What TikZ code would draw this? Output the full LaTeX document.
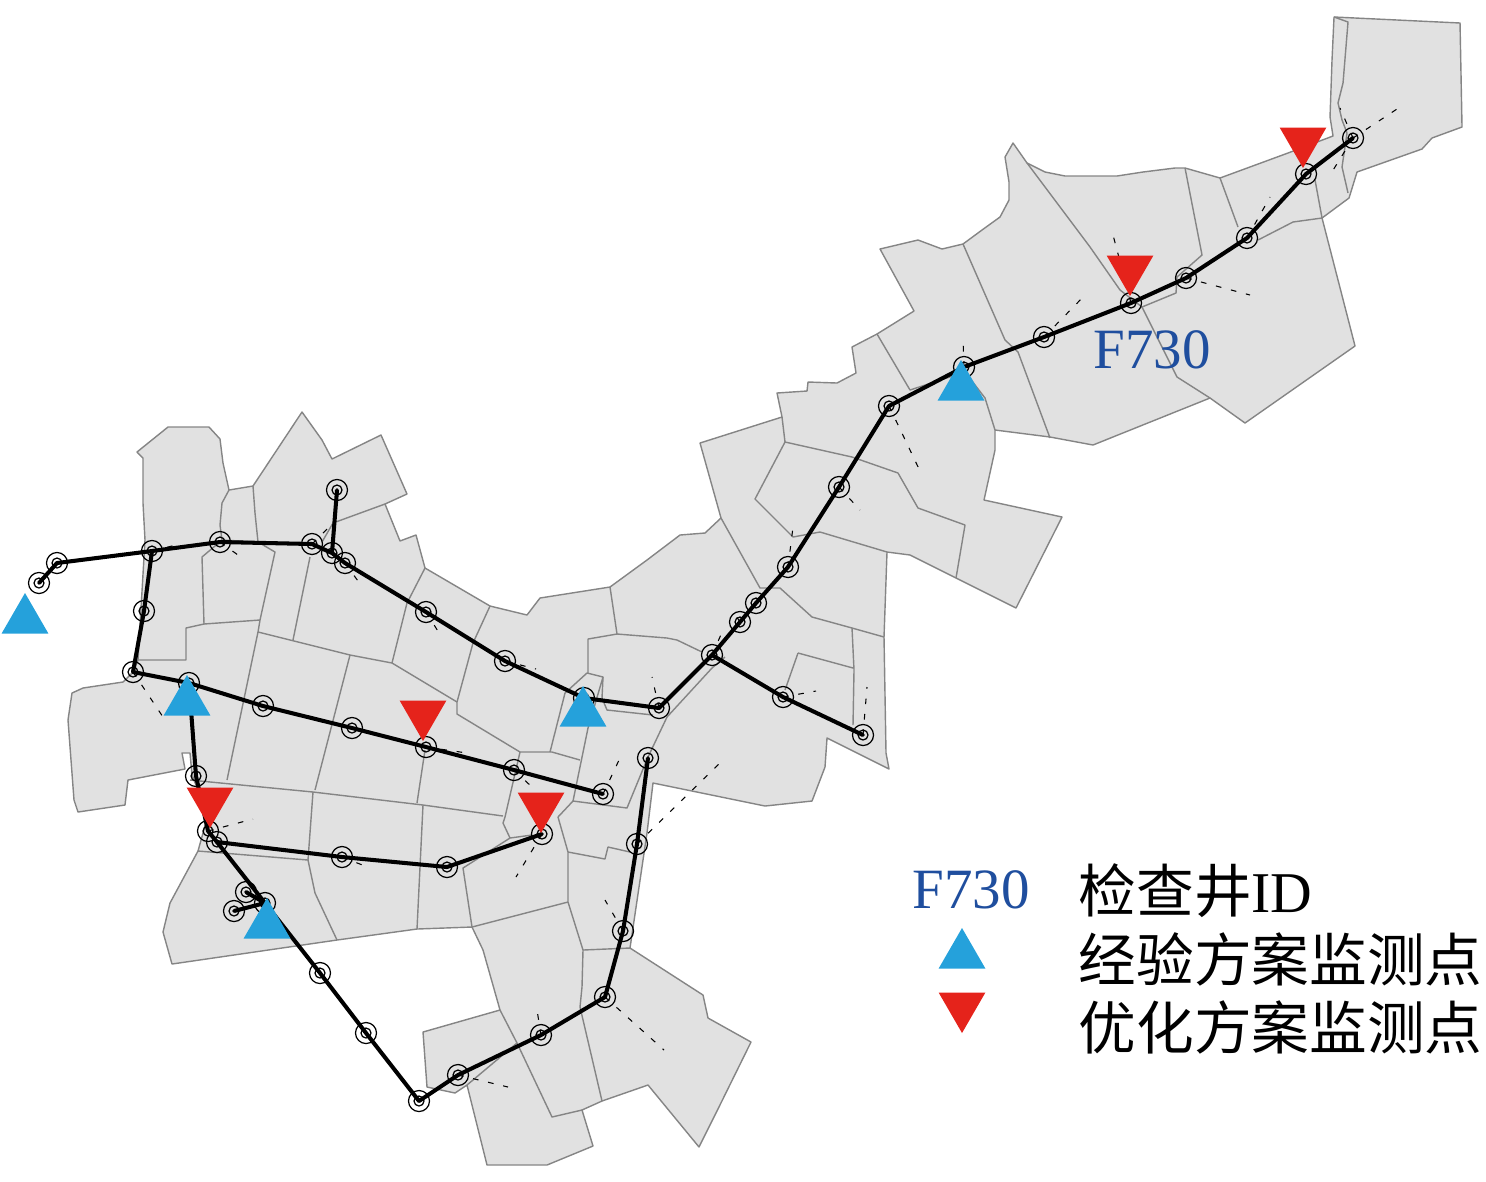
\documentclass[tikz,border=0pt]{standalone}
\usepackage{fontspec}
\setmainfont{Liberation Serif}
\newfontfamily\cjk{Noto Sans CJK SC}
\usetikzlibrary{shapes.geometric}
\definecolor{landgray}{HTML}{E1E1E1}
\definecolor{edgegray}{HTML}{858585}
\definecolor{planblue}{HTML}{25A1DB}
\definecolor{planred}{HTML}{E5231B}
\definecolor{idblue}{HTML}{1F4E9E}

\begin{document}
\begin{tikzpicture}[
    x=0.01cm,
    y=-0.01cm,
    land/.style={fill=landgray, draw=edgegray, line width=0.4pt, line join=round},
    cell/.style={draw=edgegray, line width=0.4pt, line join=round},
    pipe/.style={draw=black, line width=1.15pt, line join=round},
    service/.style={draw=black, line width=0.3pt, dash pattern=on 1.6pt off 2.8pt},
    hole/.style={
        circle,
        draw=black,
        line width=0.35pt,
        minimum size=0.21cm,
        inner sep=0pt,
        path picture={
            \draw[line width=0.35pt] (path picture bounding box.center) circle (0.05cm);
            \fill (path picture bounding box.center) circle (0.018cm);
        },
    },
    upmark/.style={
        regular polygon,
        regular polygon sides=3,
        minimum size=0.54cm,
        inner sep=0pt,
        outer sep=0pt,
        fill=planblue,
    },
    downmark/.style={
        regular polygon,
        regular polygon sides=3,
        shape border rotate=180,
        minimum size=0.54cm,
        inner sep=0pt,
        outer sep=0pt,
        fill=planred,
    },
    idtext/.style={anchor=base west, inner sep=0pt, text=idblue, font=\fontsize{16.2}{18}\selectfont},
    keytext/.style={anchor=base west, inner sep=0pt, text=black, font=\fontsize{16.4}{18}\selectfont},
]

\useasboundingbox (0,0) rectangle (1486,1181);

\path[land] (137,452) -- (168,427) -- (209,427) -- (220,439) -- (223,463) -- (229,490) -- (253,486) -- (302,412) -- (322,440) -- (332,459) -- (381,435) -- (407,494) -- (385,504) -- (400,541) -- (416,535) -- (425,568) -- (490,606) -- (527,615) -- (540,598) -- (610,587) -- (647,560) -- (680,535) -- (705,533) -- (721,518) -- (700,443) -- (782,417) -- (777,393) -- (807,391) -- (808,382) -- (837,383) -- (856,373) -- (852,347) -- (877,334) -- (914,311) -- (880,249) -- (918,240) -- (942,249) -- (963,244) -- (982,230) -- (1000,217) -- (1009,200) -- (1009,182) -- (1005,157) -- (1013,143) -- (1027,163) -- (1045,172) -- (1065,176) -- (1117,176) -- (1143,172) -- (1175,168) -- (1185,168) -- (1220,178) -- (1288,153) -- (1333,136) -- (1330,117) -- (1332,60) -- (1334,17) -- (1460,23) -- (1462,127) -- (1432,138) -- (1422,149) -- (1357,172) -- (1349,198) -- (1322,218) -- (1355,346) -- (1245,423) -- (1210,398) -- (1093,445) -- (1050,437) -- (995,430) -- (995,450) -- (984,500) -- (1062,517) -- (1016,608) -- (956,578) -- (910,555) -- (887,552) -- (884,637) -- (886,753) -- (889,769) -- (827,738) -- (825,767) -- (812,801) -- (765,806) -- (653,783) -- (647,833) -- (630,948) -- (703,995) -- (708,1018) -- (751,1042) -- (715,1115) -- (699,1147) -- (648,1085) -- (602,1101) -- (582,1110) -- (593,1146) -- (547,1165) -- (487,1165) -- (467,1085) -- (455,1093) -- (427,1087) -- (423,1032) -- (500,1010) -- (483,950) -- (472,927) -- (417,929) -- (337,940) -- (172,964) -- (163,932) -- (170,903) -- (198,851) -- (208,815) -- (192,775) -- (190,753) -- (182,753) -- (185,769) -- (128,780) -- (125,805) -- (78,812) -- (74,800) -- (68,720) -- (72,693) -- (83,688) -- (123,682) -- (133,672) -- (138,660) -- (145,540) -- (143,503) -- (143,458) -- cycle;

\draw[cell] (229,490) -- (222,503) -- (220,525) -- (222,540) -- (202,557) -- (204,624) -- (186,628) -- (186,660) -- (138,660);
\draw[cell] (253,486) -- (255,513) -- (258,542) -- (275,552) -- (260,620) -- (258,632) -- (227,780);
\draw[cell] (222,540) -- (258,542);
\draw[cell] (204,624) -- (260,620);
\draw[cell] (258,632) -- (350,655) -- (392,663) -- (457,702) -- (457,714) -- (520,752) -- (552,752) -- (580,760);
\draw[cell] (310,557) -- (293,640);
\draw[cell] (350,655) -- (315,790);
\draw[cell] (392,663) -- (407,603) -- (425,568);
\draw[cell] (322,542) -- (333,523) -- (385,504);
\draw[cell] (490,606) -- (473,643) -- (457,702);
\draw[cell] (520,752) -- (505,817) -- (503,823) -- (510,838) -- (532,835);
\draw[cell] (425,750) -- (417,803);
\draw[cell] (190,780) -- (313,792) -- (423,805) -- (503,816);
\draw[cell] (198,851) -- (308,860);
\draw[cell] (313,792) -- (308,860) -- (315,893) -- (337,940);
\draw[cell] (423,805) -- (417,929);
\draw[cell] (510,838) -- (463,868) -- (472,927) -- (568,902);
\draw[cell] (558,817) -- (568,852) -- (568,902) -- (583,950) -- (582,987) -- (580,1007) -- (602,1101);
\draw[cell] (568,852) -- (605,859) -- (608,847) -- (630,852);
\draw[cell] (558,817) -- (573,801) -- (627,808) -- (648,757) -- (667,717) -- (712,668) -- (725,657);
\draw[cell] (573,801) -- (588,728) -- (603,677) -- (587,673) -- (565,693) -- (550,752);
\draw[cell] (603,677) -- (602,698) -- (607,710) -- (653,715);
\draw[cell] (588,673) -- (588,639) -- (617,634) -- (667,638) -- (677,640) -- (702,652);
\draw[cell] (617,634) -- (610,587);
\draw[cell] (583,950) -- (630,948);
\draw[cell] (500,1010) -- (517,1043) -- (552,1117) -- (582,1110);
\draw[cell] (467,1085) -- (517,1043);
\draw[cell] (721,518) -- (760,588) -- (780,588) -- (812,617) -- (852,628) -- (884,637);
\draw[cell] (852,628) -- (854,670) -- (853,725);
\draw[cell] (798,653) -- (853,668);
\draw[cell] (798,653) -- (785,690);
\draw[cell] (782,417) -- (785,442) -- (852,457) -- (898,473) -- (918,508) -- (965,525) -- (956,578);
\draw[cell] (785,442) -- (755,499) -- (793,537) -- (820,532) -- (887,552);
\draw[cell] (877,334) -- (910,390) -- (965,372) -- (985,398) -- (995,430);
\draw[cell] (963,244) -- (1005,340) -- (1018,352) -- (1050,438);
\draw[cell] (1027,163) -- (1090,247) -- (1120,290) -- (1142,307) -- (1177,377) -- (1210,398);
\draw[cell] (1142,307) -- (1176,293) -- (1177,277) -- (1202,255) -- (1185,168);
\draw[cell] (1220,178) -- (1238,227);
\draw[cell] (1258,240) -- (1293,222) -- (1322,218) -- (1315,180);
\draw[cell] (1334,17) -- (1348,22) -- (1343,83) -- (1338,103) -- (1342,120) -- (1347,133) -- (1342,167) -- (1348,193);

\node[hole] (A1) at (39,583) {};
\node[hole] (A2) at (57,563) {};
\node[hole] (A3) at (152,551) {};
\node[hole] (A4) at (220,542) {};
\node[hole] (A5) at (312,544) {};
\node[hole] (A6) at (332,553) {};
\node[hole] (A7) at (345,563) {};
\node[hole] (A8) at (426,612) {};
\node[hole] (A9) at (505,661) {};
\node[hole] (A10) at (584,698) {};
\node[hole] (A11) at (659,708) {};
\node[hole] (A12) at (712,655) {};
\node[hole] (A13) at (740,622) {};
\node[hole] (A14) at (756,603) {};
\node[hole] (A15) at (788,567) {};
\node[hole] (A16) at (839,487) {};
\node[hole] (A17) at (889,406) {};
\node[hole] (A18) at (964,367) {};
\node[hole] (A19) at (1044,337) {};
\node[hole] (A20) at (1131,303) {};
\node[hole] (A21) at (1186,278) {};
\node[hole] (A22) at (1247,238) {};
\node[hole] (A23) at (1306,174) {};
\node[hole] (A24) at (1353,138) {};
\node[hole] (A25) at (337,490) {};
\node[hole] (B1) at (144,611) {};
\node[hole] (B2) at (133,672) {};
\node[hole] (B3) at (189,683) {};
\node[hole] (B4) at (263,706) {};
\node[hole] (B5) at (352,728) {};
\node[hole] (B6) at (426,747) {};
\node[hole] (B7) at (514,770) {};
\node[hole] (B8) at (603,794) {};
\node[hole] (C1) at (196,776) {};
\node[hole] (C2) at (208,831) {};
\node[hole] (C3) at (217,842) {};
\node[hole] (C4) at (342,857) {};
\node[hole] (C5) at (447,867) {};
\node[hole] (C6) at (542,834) {};
\node[hole] (D1) at (265,903) {};
\node[hole] (D2) at (246,892) {};
\node[hole] (D3) at (234,911) {};
\node[hole] (D4) at (320,973) {};
\node[hole] (D5) at (366,1033) {};
\node[hole] (D6) at (419,1101) {};
\node[hole] (D7) at (458,1075) {};
\node[hole] (D8) at (541,1035) {};
\node[hole] (D9) at (605,997) {};
\node[hole] (D10) at (623,931) {};
\node[hole] (D11) at (637,844) {};
\node[hole] (D12) at (648,758) {};
\node[hole] (E1) at (783,697) {};
\node[hole] (E2) at (863,735) {};

\coordinate (s1) at (163,717);
\coordinate (s2) at (467,753);
\coordinate (s3) at (238,555);
\coordinate (s4) at (358,581);
\coordinate (s5) at (330,526);
\coordinate (s6) at (180,544);
\coordinate (s7) at (441,636);
\coordinate (s8) at (536,669);
\coordinate (s9) at (652,677);
\coordinate (s10) at (620,758);
\coordinate (s11) at (533,788);
\coordinate (s12) at (723,760);
\coordinate (s13) at (605,900);
\coordinate (s14) at (516,877);
\coordinate (s15) at (365,866);
\coordinate (s16) at (253,819);
\coordinate (s17) at (537,1010);
\coordinate (s18) at (508,1087);
\coordinate (s19) at (664,1050);
\coordinate (s20) at (816,691);
\coordinate (s21) at (867,687);
\coordinate (s22) at (723,630);
\coordinate (s23) at (732,610);
\coordinate (s24) at (793,527);
\coordinate (s25) at (860,510);
\coordinate (s26) at (920,471);
\coordinate (s27) at (963,339);
\coordinate (s28) at (1087,293);
\coordinate (s29) at (1113,235);
\coordinate (s30) at (1250,295);
\coordinate (s31) at (1270,197);
\coordinate (s32) at (1400,107);
\coordinate (s33) at (1340,108);
\coordinate (s34) at (1330,175);

\draw[service] (B2.center) -- (s1);
\draw[service] (B6.center) -- (s2);
\draw[service] (A4.center) -- (s3);
\draw[service] (A7.center) -- (s4);
\draw[service] (A5.center) -- (s5);
\draw[service] (A3.center) -- (s6);
\draw[service] (A8.center) -- (s7);
\draw[service] (A9.center) -- (s8);
\draw[service] (A11.center) -- (s9);
\draw[service] (B8.center) -- (s10);
\draw[service] (B7.center) -- (s11);
\draw[service] (D11.center) -- (s12);
\draw[service] (D10.center) -- (s13);
\draw[service] (C6.center) -- (s14);
\draw[service] (C4.center) -- (s15);
\draw[service] (C2.center) -- (s16);
\draw[service] (D8.center) -- (s17);
\draw[service] (D7.center) -- (s18);
\draw[service] (D9.center) -- (s19);
\draw[service] (E1.center) -- (s20);
\draw[service] (E2.center) -- (s21);
\draw[service] (A12.center) -- (s22);
\draw[service] (A13.center) -- (s23);
\draw[service] (A15.center) -- (s24);
\draw[service] (A16.center) -- (s25);
\draw[service] (A17.center) -- (s26);
\draw[service] (A18.center) -- (s27);
\draw[service] (A19.center) -- (s28);
\draw[service] (A20.center) -- (s29);
\draw[service] (A21.center) -- (s30);
\draw[service] (A22.center) -- (s31);
\draw[service] (A24.center) -- (s32);
\draw[service] (A24.center) -- (s33);
\draw[service] (A24.center) -- (s34);

\draw[pipe] (A1.center) -- (A2.center) -- (A3.center) -- (A4.center) -- (A5.center) -- (A6.center) -- (A7.center) -- (A8.center) -- (A9.center) -- (A10.center) -- (A11.center) -- (A12.center) -- (A13.center) -- (A14.center) -- (A15.center) -- (A16.center) -- (A17.center) -- (A18.center) -- (A19.center) -- (A20.center) -- (A21.center) -- (A22.center) -- (A23.center) -- (A24.center);
\draw[pipe] (A25.center) -- (A6.center);
\draw[pipe] (A3.center) -- (B1.center) -- (B2.center) -- (B3.center) -- (B4.center) -- (B5.center) -- (B6.center) -- (B7.center) -- (B8.center);
\draw[pipe] (B3.center) -- (C1.center) -- (C2.center) -- (C3.center) -- (C4.center) -- (C5.center) -- (C6.center);
\draw[pipe] (C3.center) -- (D1.center) -- (D4.center) -- (D5.center) -- (D6.center) -- (D7.center) -- (D8.center) -- (D9.center) -- (D10.center) -- (D11.center) -- (D12.center);
\draw[pipe] (D2.center) -- (D1.center) -- (D3.center);
\draw[pipe] (A12.center) -- (E1.center) -- (E2.center);

\node[upmark] (U1) at (25,620) {};
\node[upmark] (U2) at (187,702) {};
\node[upmark] (U3) at (583,713) {};
\node[upmark] (U4) at (961,387) {};
\node[upmark] (U5) at (267,925) {};
\node[downmark] (V1) at (210,801) {};
\node[downmark] (V2) at (423,714) {};
\node[downmark] (V3) at (541,806) {};
\node[downmark] (V4) at (1130,269) {};
\node[downmark] (V5) at (1303,141) {};

\node[idtext] (idmap) at (1093,368) {F730};
\node[idtext] (idkey) at (912,908) {F730};
\node[keytext] (key1) at (1078,912) {\cjk 检查井\rmfamily ID};
\node[upmark] (keyup) at (962,955) {};
\node[keytext] (key2) at (1078,981) {\cjk 经验方案监测点};
\node[downmark] (keydown) at (962,1006) {};
\node[keytext] (key3) at (1078,1049) {\cjk 优化方案监测点};

\end{tikzpicture}
\end{document}
